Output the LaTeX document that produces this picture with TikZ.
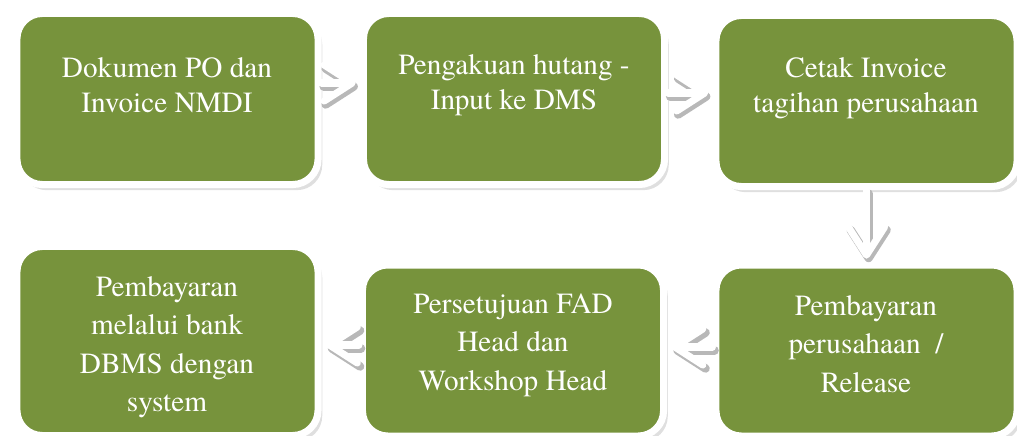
\documentclass[tikz,border=0pt]{standalone}
\usepackage{fontspec}
\setmainfont{texgyretermes-regular.otf}
\usetikzlibrary{arrows.meta,shadows}
\definecolor{stepgreen}{HTML}{77933C}
\tikzset{
	box/.style={draw=white, line width=5pt, fill=stepgreen, rounded corners=18pt, minimum width=7.525cm, minimum height=4.275cm, inner sep=0pt, drop shadow={shadow xshift=3pt, shadow yshift=-4pt, opacity=0.25}},
	boxtext/.style={text=white, align=center, font=\fontsize{20.8}{25}\selectfont},
	flow/.style={draw=white, line width=5pt, line cap=round, -{Straight Barb[length=0.7cm, width=0.9cm, round]}},
	flowshadow/.style={flow, draw=black!28, line width=6pt, transform canvas={xshift=1.5pt, yshift=-2.5pt}}
}

\begin{document}
\begin{tikzpicture}[x=0.025cm, y=-0.025cm]
		%%%%% START %%%%%
		\useasboundingbox (0, 0) rectangle (1017, 435);
		
		\node[box] (b1) at (167.5, 99) {};
		\node[box] (b2) at (514, 99) {};
		\node[box] (b3) at (866.5, 101) {};
		\node[box, minimum height=4.725cm] (b4) at (167.5, 341) {};
		\node[box] (b5) at (513, 350.5) {};
		\node[box] (b6) at (866.5, 350.5) {};
		
		\node[boxtext] (t1) at (167, 85) {Dokumen PO dan\\Invoice NMDI};
		\node[boxtext] (t2) at (514, 85) {Pengakuan hutang -\\Input ke DMS};
		\node[boxtext] (t3) at (866, 88) {Cetak Invoice\\tagihan perusahaan};
		\node[boxtext, font=\fontsize{20.8}{27.3}\selectfont] (t4) at (167, 347) {Pembayaran\\melalui bank\\DBMS dengan\\system};
		\node[boxtext, font=\fontsize{20.8}{27.3}\selectfont] (t5) at (513, 345) {Persetujuan FAD\\Head dan\\Workshop Head};
		\node[boxtext, font=\fontsize{20.8}{27.3}\selectfont] (t6) at (866, 344) {Pembayaran\\perusahaan~~/\\Release};
		
		% arrows between the boxes
		\draw[flowshadow, shorten >=3pt] (b1.east |- 0,83) -- (b2.west |- 0,83);
		\draw[flow, shorten >=3pt] (b1.east |- 0,83) -- (b2.west |- 0,83);
		\draw[flowshadow, shorten >=3pt] (b2.east |- 0,93) -- (b3.west |- 0,93);
		\draw[flow, shorten >=3pt] (b2.east |- 0,93) -- (b3.west |- 0,93);
		\draw[flowshadow, shorten >=2pt] (b3.south) -- (b6.north);
		\draw[flow, shorten >=2pt] (b3.south) -- (b6.north);
		\draw[flowshadow, shorten >=3pt] (b6.west |- 0,347) -- (b5.east |- 0,347);
		\draw[flow, shorten >=3pt] (b6.west |- 0,347) -- (b5.east |- 0,347);
		\draw[flowshadow, shorten >=3pt] (b5.west |- 0,345) -- (b4.east |- 0,345);
		\draw[flow, shorten >=3pt] (b5.west |- 0,345) -- (b4.east |- 0,345);
		%%%%% END %%%%%
\end{tikzpicture}
\end{document}
